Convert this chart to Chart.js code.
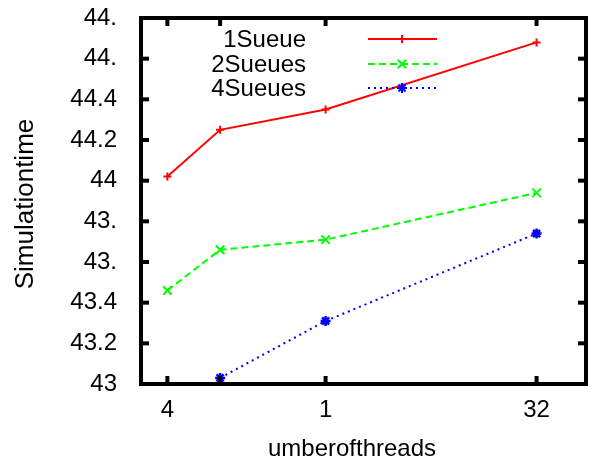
<!DOCTYPE html>
<html>
<head>
<meta charset="utf-8">
<script src="https://cdn.jsdelivr.net/npm/chart.js@4/dist/chart.umd.min.js"></script>
<style>
  html, body { margin: 0; padding: 0; background: #fff; }
</style>
</head>
<body>
<canvas id="chart" width="594" height="463"></canvas>
<script>
// number of threads (x values) and the labels gnuplot printed for them
const threads = [4, 8, 16, 32];
const xTickLabels = ["4", "", "1", "32"];

// y ticks and their (truncated) labels
const yTickValues = [43, 43.2, 43.4, 43.6, 43.8, 44, 44.2, 44.4, 44.6, 44.8];
const yTickLabels = ["43", "43.2", "43.4", "43.", "43.", "44", "44.2", "44.4", "44.", "44."];

// series
const seriesNames = ["1Sueue", "2Sueues", "4Sueues"];
const oneQueue = [44.02, 44.25, 44.35, 44.68];
const twoQueues = [43.46, 43.66, 43.71, 43.94];
const fourQueues = [null, 43.03, 43.31, 43.74];

const xTitle = "umberofthreads";
const yTitle = "Simulationtime";

const font = "'Liberation Sans', Arial, sans-serif";

const toPoints = (vals) => threads.map((t, i) => ({ x: t, y: vals[i] }));

// border, inward tick marks, axis titles and the gnuplot style key
const frameAndKey = {
  id: "frameAndKey",
  afterDatasetsDraw(chart) {
    const { ctx, chartArea: a, scales: { x, y } } = chart;
    const line = (x1, y1, x2, y2) => {
      ctx.beginPath();
      ctx.moveTo(x1, y1);
      ctx.lineTo(x2, y2);
      ctx.stroke();
    };
    ctx.save();
    ctx.strokeStyle = "#000";
    ctx.lineWidth = 4;
    threads.forEach((v) => {
      const px = x.getPixelForValue(v);
      line(px, a.bottom, px, a.bottom - 8);
      line(px, a.top, px, a.top + 8);
    });
    yTickValues.forEach((v) => {
      const py = y.getPixelForValue(v);
      line(a.left, py, a.left + 8, py);
      line(a.right, py, a.right - 8, py);
    });
    ctx.strokeRect(a.left, a.top, a.right - a.left, a.bottom - a.top);

    // axis titles
    ctx.fillStyle = "#000";
    ctx.textAlign = "center";
    ctx.textBaseline = "alphabetic";
    ctx.font = "24px " + font;
    ctx.fillText(xTitle, 352, 456);
    ctx.save();
    ctx.translate(33, 204);
    ctx.rotate(-Math.PI / 2);
    ctx.font = "26px " + font;
    ctx.fillText(yTitle, 0, 0);
    ctx.restore();

    // key
    const rows = [39, 64, 88];
    ctx.font = "24px " + font;
    ctx.textAlign = "right";
    ctx.textBaseline = "middle";
    chart.data.datasets.forEach((ds, i) => {
      const ry = rows[i];
      ctx.fillStyle = "#000";
      ctx.fillText(ds.label, 306, ry + 1);
      ctx.strokeStyle = ds.borderColor;
      ctx.lineWidth = ds.borderWidth;
      ctx.setLineDash(ds.borderDash || []);
      line(368, ry, 437, ry);
      ctx.setLineDash([]);
      Chart.helpers.drawPoint(ctx, {
        pointStyle: ds.pointStyle,
        radius: ds.pointRadius,
        borderWidth: ds.pointBorderWidth,
        rotation: 0
      }, 402, ry);
    });
    ctx.restore();
  }
};

new Chart(document.getElementById("chart"), {
  type: "line",
  data: {
    datasets: [
      {
        label: seriesNames[0],
        data: toPoints(oneQueue),
        borderColor: "#ff0000",
        backgroundColor: "#ff0000",
        borderWidth: 2,
        pointStyle: "cross",
        pointRadius: 4,
        pointBorderWidth: 2,
        order: 2
      },
      {
        label: seriesNames[1],
        data: toPoints(twoQueues),
        borderColor: "#00ff00",
        backgroundColor: "#00ff00",
        borderWidth: 2,
        borderDash: [7, 4],
        pointStyle: "crossRot",
        pointRadius: 6,
        pointBorderWidth: 2,
        order: 1
      },
      {
        label: seriesNames[2],
        data: toPoints(fourQueues),
        borderColor: "#0000ff",
        backgroundColor: "#0000ff",
        borderWidth: 2,
        borderDash: [2, 4],
        pointStyle: "star",
        pointRadius: 5,
        pointBorderWidth: 2.5,
        order: 0
      }
    ]
  },
  options: {
    responsive: false,
    animation: false,
    devicePixelRatio: 1,
    layout: { padding: { top: 18, right: 3, left: 0, bottom: 0 } },
    plugins: { legend: { display: false }, tooltip: { enabled: false } },
    scales: {
      x: {
        type: "linear",
        min: 2,
        max: 35.75,
        grid: { display: false, drawTicks: false },
        border: { display: false },
        afterFit: (scale) => {
          scale.height = 79;
          scale.paddingLeft = 0;
          scale.paddingRight = 0;
        },
        afterBuildTicks: (scale) => { scale.ticks = threads.map((v) => ({ value: v })); },
        ticks: {
          autoSkip: false,
          maxRotation: 0,
          padding: 12,
          color: "#000",
          font: { family: font, size: 24 },
          callback: (v) => xTickLabels[threads.indexOf(v)] ?? ""
        }
      },
      y: {
        min: 43,
        max: 44.8,
        grid: { display: false, drawTicks: false },
        border: { display: false },
        afterFit: (scale) => {
          scale.width = 141;
          scale.paddingTop = 0;
          scale.paddingBottom = 0;
        },
        afterBuildTicks: (scale) => { scale.ticks = yTickValues.map((v) => ({ value: v })); },
        ticks: {
          autoSkip: false,
          padding: 24,
          color: "#000",
          font: { family: font, size: 24 },
          callback: (v) => {
            const i = yTickValues.findIndex((t) => Math.abs(t - v) < 1e-6);
            return i >= 0 ? yTickLabels[i] : "";
          }
        }
      }
    }
  },
  plugins: [frameAndKey]
});
</script>
</body>
</html>
